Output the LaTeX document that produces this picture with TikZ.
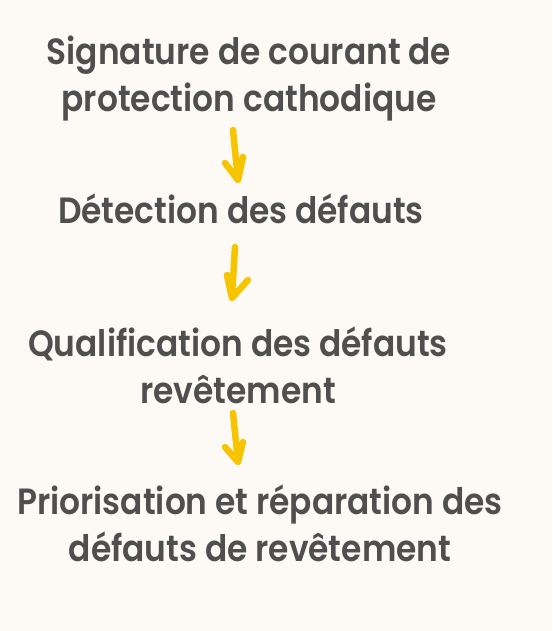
\documentclass[tikz,border=0pt]{standalone}
\usepackage{fontspec}
\setmainfont{Poppins}[UprightFont=* SemiBold, FakeStretch=0.9]
\usetikzlibrary{positioning}
\definecolor{cream}{HTML}{FDF9F5}
\definecolor{inkgray}{HTML}{4F4F4F}
\definecolor{arrowgold}{HTML}{F7C400}
\tikzset{
  stepnode/.style={text=inkgray, font=\fontsize{36.5}{47}\selectfont, align=center, inner sep=0pt},
  handarrow/.style={draw=arrowgold, line width=6.5pt, line cap=round, line join=round}
}
\begin{document}
\begin{tikzpicture}[x=1pt, y=-1pt]
        \fill[cream] (0,0) rectangle (552,631);
        \useasboundingbox (0,0) rectangle (552,631);

        % etapes
        \node[stepnode] (signature) at (249,79) {Signature de courant de\\protection cathodique};
        \node[stepnode] (detection) at (241,209) {Détection des défauts};
        \node[stepnode] (qualif) at (238,365.5) {Qualification des défauts\\revêtement};
        \node[stepnode] (prior) at (260,523) {Priorisation et réparation des\\défauts de revêtement};

        % fleches
        \coordinate (a1) at (233,130); \coordinate (b1) at (238,180);
        \coordinate (a2) at (235,247); \coordinate (b2) at (232,298);
        \coordinate (a3) at (233,413); \coordinate (b3) at (238,462);
        \draw[handarrow] (a1) -- (b1) (225,163) -- (b1) -- (243,157);
        \draw[handarrow] (a2) -- (b2) (227,275) -- (b2) -- (248,280);
        \draw[handarrow] (a3) -- (b3) (225,447) -- (b3) -- (243,442);
    \end{tikzpicture}
\end{document}
